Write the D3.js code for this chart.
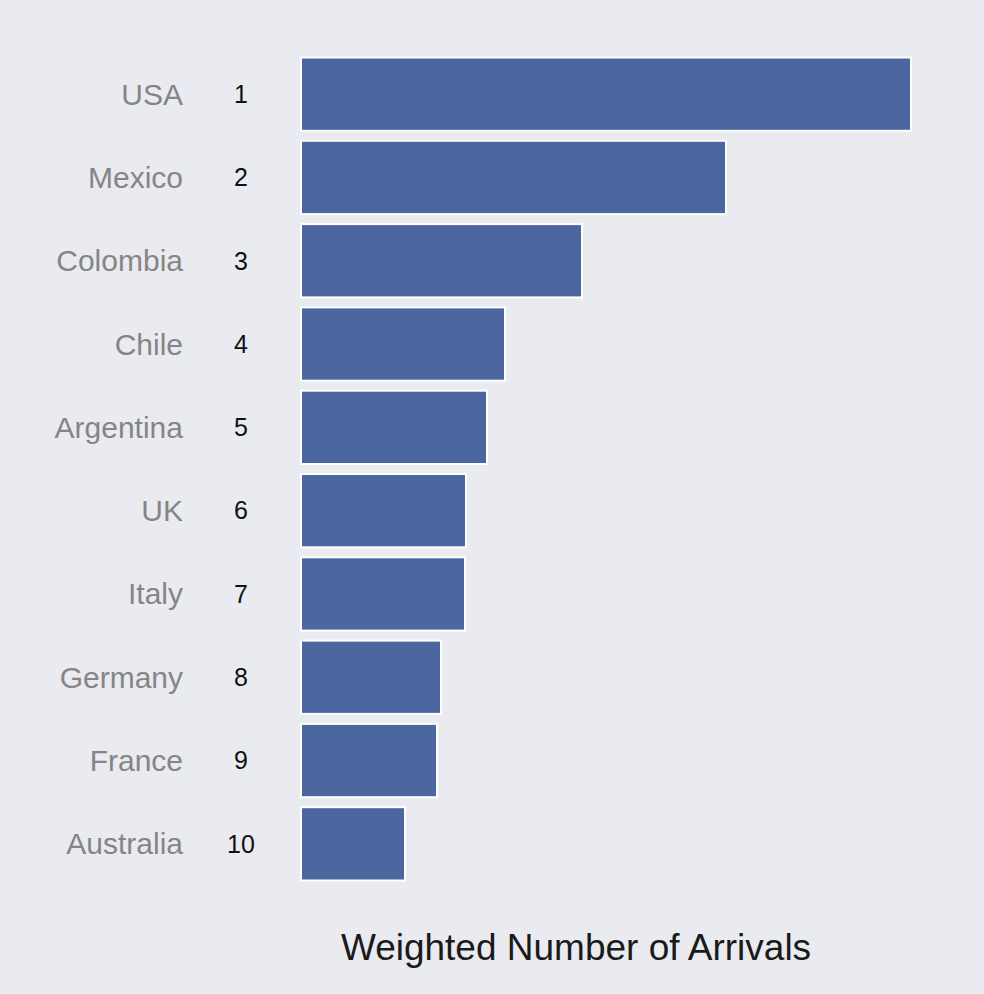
<!DOCTYPE html>
<html><head><meta charset="utf-8">
<script src="https://cdn.jsdelivr.net/npm/d3@7"></script>
<style>body{margin:0;background:#e9ebf0}</style></head>
<body><svg id="c" width="984" height="994"></svg>
<script>
const countries=["USA","Mexico","Colombia","Chile","Argentina","UK","Italy","Germany","France","Australia"];
const ranks=[1,2,3,4,5,6,7,8,9,10];
const values=[610,425,281,204,186,165,164,140,136,104];
const svg=d3.select("#c");
svg.append("rect").attr("width",984).attr("height",994).attr("fill","#e9ebf0");
const y=d3.scaleBand().domain(countries).range([55,883]).paddingInner(0.12).paddingOuter(0.03);
const x=d3.scaleLinear().domain([0,610]).range([301,911]);
svg.selectAll("rect.b").data(countries).join("rect").attr("class","b")
 .attr("x",x(0)).attr("y",d=>y(d)).attr("width",(d,i)=>x(values[i])-x(0)).attr("height",y.bandwidth())
 .attr("fill","#4c67a0").attr("stroke","#ffffff").attr("stroke-width",2);
svg.selectAll("text.c").data(countries).join("text").attr("class","c")
 .attr("x",183).attr("y",d=>y(d)+y.bandwidth()/2).attr("dy","0.35em").attr("text-anchor","end")
 .attr("font-family","Liberation Sans, Arial, sans-serif").attr("font-size",30).attr("fill","#858585").text(d=>d);
svg.selectAll("text.r").data(countries).join("text").attr("class","r")
 .attr("x",241).attr("y",d=>y(d)+y.bandwidth()/2).attr("dy","0.35em").attr("text-anchor","middle")
 .attr("font-family","Liberation Sans, Arial, sans-serif").attr("font-size",25).attr("fill","#111").text((d,i)=>ranks[i]);
svg.append("text").attr("x",576).attr("y",960).attr("text-anchor","middle")
 .attr("font-family","Liberation Sans, Arial, sans-serif").attr("font-size",37).attr("fill","#1a1a1a").text("Weighted Number of Arrivals");
</script></body></html>
